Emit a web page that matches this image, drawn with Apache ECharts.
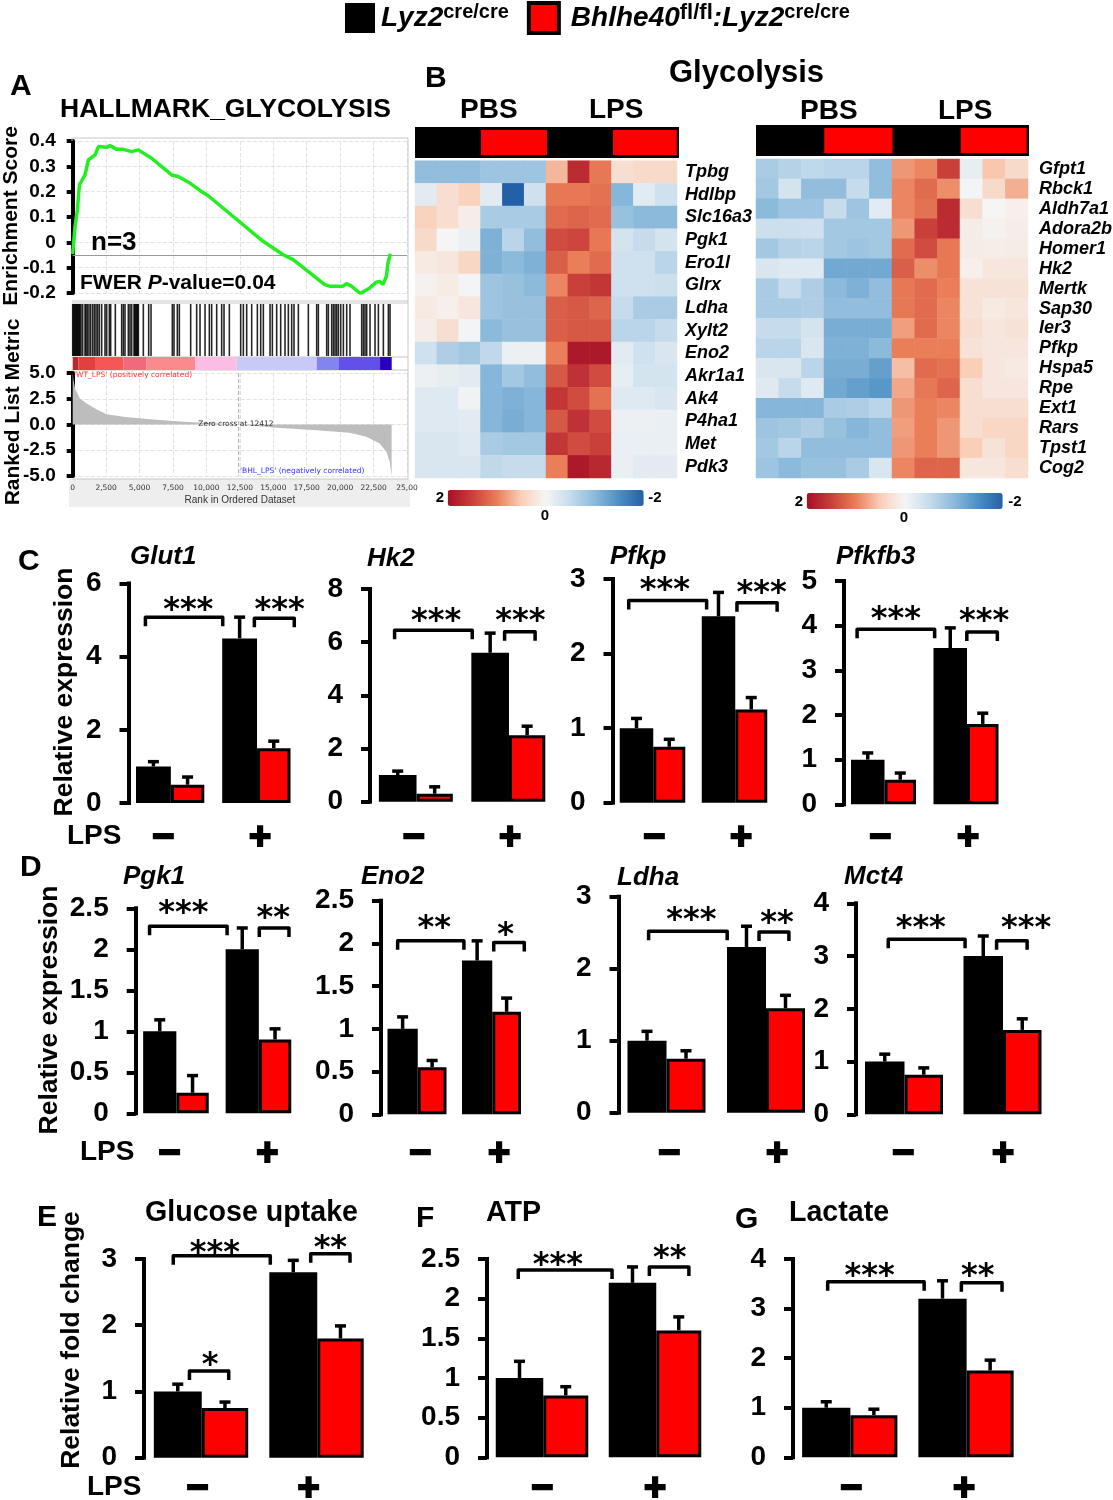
<!DOCTYPE html>
<html><head><meta charset="utf-8">
<style>html,body{margin:0;padding:0;background:#fff}#c{width:1113px;height:1500px}</style>
<script src="https://cdn.jsdelivr.net/npm/echarts@6/dist/echarts.min.js"></script>
</head><body><div id="c"></div>
<script>
// ---------- DATA ----------
const panelNames = ['Glut1','Hk2','Pfkp','Pfkfb3','Pgk1','Eno2','Ldha','Mct4','Glucose uptake','ATP','Lactate'];
const lpsGroups = ['-','+'];
const blackMeans = [[1,4.5],[1,5.6],[1,2.5],[1,3.5],[1,2],[1,1.8],[1,2.3],[1,3],[1,2.8],[1,2.2],[1,3.2]];
const redMeans = [[.5,1.5],[.3,2.5],[.75,1.25],[.55,1.8],[.25,.9],[.55,1.2],[.75,1.45],[.75,1.6],[.75,1.8],[.78,1.6],[.85,1.75]];
const blackErrTops = [[1.13,5.08],[1.15,6.34],[1.13,2.82],[1.15,3.95],[1.14,2.26],[1.14,2.03],[1.13,2.59],[1.14,3.38],[1.11,2.98],[1.21,2.40],[1.12,3.56]];
const redErrTops = [[.71,1.69],[.56,2.84],[.85,1.41],[.70,2.04],[.46,1.03],[.63,1.36],[.86,1.63],[.88,1.81],[.84,1.99],[.89,1.77],[.97,1.96]];
const yMaxes = [6,8,3,5,2.5,2.5,3,4,3,2.5,4];
const yIntervals = [2,2,1,1,.5,.5,1,1,1,.5,1];
// significance brackets: [from, to, level, starX, starLevel, stars]
const sigBrackets = [
 [[-.287,.61,5.08,.21,5.46,'***'],[.977,1.44,5.05,1.27,5.44,'***']],
 [[-.23,.61,6.45,.22,7.02,'***'],[.96,1.29,6.39,1.13,7.02,'***']],
 [[-.29,.66,2.71,.15,2.94,'***'],[1.03,1.52,2.68,1.33,2.90,'***']],
 [[-.32,.62,3.92,.15,4.30,'***'],[1.01,1.38,3.86,1.22,4.24,'***']],
 [[-.32,.62,2.28,.09,2.52,'***'],[1.01,1.37,2.26,1.18,2.46,'**']],
 [[-.26,.63,2.03,.23,2.26,'**'],[1.03,1.44,2.01,1.19,2.17,'*']],
 [[-.18,.61,2.52,.25,2.77,'***'],[.93,1.23,2.51,1.11,2.72,'**']],
 [[-.16,.62,3.32,.17,3.65,'***'],[.94,1.25,3.29,1.24,3.66,'***']],
 [[-.24,.60,3.05,.12,3.19,'***'],[.95,1.29,3.08,1.12,3.26,'**'],[-.10,.24,1.31,.08,1.50,'*']],
 [[-.21,.62,2.36,.14,2.51,'***'],[.95,1.30,2.40,1.13,2.59,'**']],
 [[-.19,.64,3.54,.17,3.78,'***'],[.96,1.31,3.52,1.10,3.78,'**']]
];
// GSEA running enrichment score [rank, ES]
const esCurve = [[0,-.046],[175,.063],[350,.129],[500,.227],[920,.266],[1170,.325],[1670,.345],[1920,.378],[2540,.375],[2790,.382],[3290,.367],[3785,.367],[4400,.358],[4900,.365],[5900,.332],[7400,.266],[7890,.26],[8765,.234],[9510,.205],[10135,.184],[12000,.102],[14240,.004],[15740,-.049],[16480,-.068],[17480,-.11],[18850,-.167],[19220,-.173],[20220,-.173],[20470,-.163],[20840,-.173],[21510,-.202],[22210,-.18],[22710,-.157],[22960,-.154],[23200,-.167],[23460,-.134],[23580,-.081],[23750,-.045]];
const esBaseline = -.047;
const hitRanks = [0,60,120,180,240,300,360,420,480,540,621,745,920,995,1094,1219,1344,1493,1618,1743,1867,1992,2166,2416,2540,2740,2839,3188,3662,3787,3911,4161,4285,4410,4585,4650,4720,4790,4850,4909,5283,5681,5856,7451,7576,7825,7975,8823,9271,9521,9895,10219,10393,10767,11141,11316,11715,12562,12762,13011,13385,13809,14058,14257,14756,14931,15255,15554,15878,16127,16376,16551,16875,17623,18246,18371,18994,19119,19368,19493,19618,19742,19867,20042,20241,20490,20739,21612,21736,21861,21986,22235,22609,22859,23233,23607,23731];
const bandEdges = [0,421,1668,3787,5532,9147,12263,18246,19867,22983,23856];
const bandColors = ['#b52a2a','#e24040','#f75656','#f06a7c','#fb8a8e','#fcbde4','#c9c9f8','#8484f0','#6250e8','#2a00bf'];
const rankedMetric = [[0,5],[60,4.3],[175,3.5],[550,2.5],[1050,2.05],[1800,1.45],[2540,1],[3785,.75],[5780,.5],[8270,.26],[12412,0],[15000,-.3],[18225,-.55],[20700,-.8],[21960,-1.2],[22960,-1.85],[23460,-2.65],[23700,-3.6],[23850,-5],[23851,0]];
const zeroCross = 12412;
const heatGenesA = ['Tpbg','Hdlbp','Slc16a3','Pgk1','Ero1l','Glrx','Ldha','Xylt2','Eno2','Akr1a1','Ak4','P4ha1','Met','Pdk3'];
const heatValuesA = [
[-.95,-.95,-.95,-.85,-.85,-.85,.65,1.7,1.05,.3,.35,.35],
[-.2,.3,.45,-.2,-2,-.4,1.05,1.05,1.1,-1.05,-.2,-.4],
[.45,.3,.1,-.75,-.75,-.75,1.15,1.2,1.15,-.9,-1,-1],
[.35,0,-.1,-1.1,-.6,-.95,1.4,1.45,1.05,-.35,-.5,-.35],
[.15,.2,.4,-1.1,-1,-1.1,1.25,1,1.15,-.4,-.4,-.6],
[.05,.12,-.02,-.85,-.9,-1,.95,1.5,1.6,-.4,-.4,-.45],
[.15,.08,.2,-.85,-.9,-.9,1.25,1.3,1.2,-.5,-.75,-.75],
[.1,.3,-.02,-1,-.9,-.9,1.25,1.3,1.3,-.6,-.6,-.5],
[-.4,-.7,-.8,-.55,-.1,-.1,1,1.9,1.9,-.2,-.4,-.3],
[-.1,-.15,-.2,-1.05,-.8,-.95,1.3,1.65,1.4,-.15,-.35,-.35],
[-.25,-.25,-.05,-1.05,-1.1,-1.05,1.6,1.4,1.1,-.25,-.25,-.3],
[-.25,-.25,-.2,-1.05,-1.15,-1.05,1.3,1.65,1.4,-.1,-.1,-.12],
[-.3,-.3,-.25,-.75,-.8,-.8,1.6,1.4,1.5,-.12,-.12,-.12],
[-.3,-.3,-.3,-.55,-.5,-.5,1,1.9,1.75,-.12,-.2,-.2]];
const heatGenesB = ['Gfpt1','Rbck1','Aldh7a1','Adora2b','Homer1','Hk2','Mertk','Sap30','Ier3','Pfkp','Hspa5','Rpe','Ext1','Rars','Tpst1','Cog2'];
const heatValuesB = [
[-.75,-.65,-.55,-.6,-.6,-.95,.85,.95,1.5,-.15,.55,.35],
[-.8,-.35,-.95,-.95,-.5,-.95,.95,1.15,.9,-.02,.35,.7],
[-1,-.85,-.85,-.5,-.85,-.2,.95,1.1,1.7,.3,0,.08],
[-.45,-.45,-.4,-.8,-.8,-.8,.85,1.5,1.7,.12,.05,.1],
[-.8,-.65,-.6,-.8,-.85,-.8,1.15,1.4,1.05,.12,.1,.12],
[-.3,-.25,-.25,-1.2,-1.2,-1.2,1.25,.9,1.05,.08,.2,.2],
[-.75,-.5,-.7,-1,-1.1,-.95,1.05,1.15,1,.25,.25,.25],
[-.75,-.75,-.7,-.95,-.95,-.95,1.05,1.15,.95,.25,.15,.2],
[-.5,-.5,-.35,-1.15,-1.15,-1.15,.8,1.15,.95,.3,.2,.25],
[-.6,-.6,-.3,-1.1,-1.1,-1,1,1,1,.25,.2,.2],
[-.3,-.3,-.6,-1.15,-1.15,-1.3,.6,1.15,1.1,.5,.2,.15],
[-.25,-.5,-.25,-1.2,-1.3,-1.4,.75,1.05,1.2,.3,.2,.2],
[-1.05,-1.05,-1.05,-.75,-.7,-.6,.85,1,.95,.3,.3,.3],
[-.85,-.8,-.7,-.9,-1.05,-.95,.8,1,.85,.3,.4,.4],
[-.8,-.6,-.95,-.95,-.95,-.95,.85,1,.85,.5,.25,.4],
[-.85,-1,-.9,-.9,-.75,-.3,.95,1.2,1.2,.2,.2,.3]];
const redColumns = [[3,6],[9,11.9]];

// ---------- LAYOUT ----------
// [axisX, yTop, y0, black1L, mid1, red1R, black2L, mid2, red2R, minusX, plusX, signY]
const panelBoxes = [
[128.5,583.5,803,135.7,172,204.6,222,258.4,290.7,163,260,839],
[370,589,801.7,378.7,418,453,471,510,545.6,413.5,510,839],
[612.5,579,802.7,619,654,686,702,737,767,654,741,839],
[844,581,804.3,851,886,916,933,968,999,880,968,839],
[135.7,908.3,1113.3,142.9,177.7,209,225.4,260,291.5,169.4,267.4,1155],
[381,900.7,1114.3,387,419,447,462,493.5,521,420,499,1155],
[618.5,896.7,1112.7,627,668,706,727,767,805,669,777,1155],
[856,903.3,1114.3,865,906,943,963,1004,1042,903,1003,1155],
[144,1259,1457.7,153.6,202.8,248.4,269,318.7,364,197.4,308.7,1490],
[487,1259,1457.3,496,545,588,608,657,702,542,655,1490],
[793,1259,1457.3,802,851.5,897.5,918,968,1014,851,964,1490]];
const FF = '"Liberation Sans", Arial, sans-serif';
const grid=[], xAxis=[], yAxis=[], series=[], graphic=[], visualMap=[];

function addGrid(l,t,w,h,extra){grid.push(Object.assign({left:l,top:t,width:w,height:h,containLabel:false,outerBoundsMode:'none'},extra||{}));return grid.length-1;}
function txt(s,x,y,o){o=o||{};const rot=o.rot||0;graphic.push({type:'text',x:rot?x+2:x,y:rot?y:y+2,rotation:rot,z:o.z||50,silent:true,style:{text:s,fontFamily:o.ff||FF,fontSize:o.size||28,fontWeight:o.w||'bold',fontStyle:o.it?'italic':'normal',fill:o.c||'#000',textAlign:o.a||'left',textVerticalAlign:'middle',rich:o.rich}});}

// ---------- BAR PANELS ----------
panelNames.forEach((nm,i)=>{
  const [ax,yt,y0,b1,m1,r1,b2,m2,r2,mx,px,sy]=panelBoxes[i];
  const c1=(b1+r1)/2,c2=(b2+r2)/2,band=c2-c1;
  const gl=c1-band/2;
  const bw=((m1-b1)+(m2-b2))/2-1.5, rw=((r1-m1)+(r2-m2))/2+1;
  const g=addGrid(gl,yt,band*2,y0-yt);
  const xc=xAxis.length; xAxis.push({type:'category',gridIndex:g,data:lpsGroups,show:false});
  const xv=xAxis.length; xAxis.push({type:'value',gridIndex:g,min:-.5,max:1.5,position:'bottom',
    axisLine:{show:false},axisTick:{show:false},splitLine:{show:false},
    axisLabel:{show:true,customValues:[(mx-c1)/band,(px-c1)/band],margin:sy-y0,verticalAlign:'middle',
      fontFamily:FF,fontSize:38,fontWeight:'bold',color:'#000',textBorderColor:'#000',textBorderWidth:2,
      formatter:v=>v<.5?'\u2212':'+',hideOverlap:false}});
  const yi=yAxis.length; yAxis.push({type:'value',gridIndex:g,min:0,max:yMaxes[i],interval:yIntervals[i],position:'left',offset:gl-ax,
    axisLine:{show:true,onZero:false,lineStyle:{color:'#000',width:4,cap:'square'}},
    axisTick:{show:true,length:9,lineStyle:{color:'#000',width:4}},
    splitLine:{show:false},
    axisLabel:{margin:27,fontFamily:FF,fontSize:28,fontWeight:'bold',color:'#000',formatter:v=>String(v)}});
  series.push({type:'bar',name:'Lyz2',xAxisIndex:xc,yAxisIndex:yi,data:blackMeans[i],barWidth:bw,barGap:0,silent:true,
    itemStyle:{color:'#000',borderColor:'#000',borderWidth:3},z:3});
  series.push({type:'bar',name:'Bhlhe40',xAxisIndex:xc,yAxisIndex:yi,data:redMeans[i],barWidth:rw,barGap:0,silent:true,
    itemStyle:{color:'#f00',borderColor:'#000',borderWidth:3},z:3});
  // error bars
  [[blackErrTops[i],-rw/2],[redErrTops[i],bw/2]].forEach(([tops,off],k)=>{
    const means=k?redMeans[i]:blackMeans[i];
    series.push({type:'custom',xAxisIndex:xc,yAxisIndex:yi,silent:true,z:2,clip:false,
      data:tops.map((t,j)=>[j,t,means[j]]),encode:{x:0,y:1},
      renderItem:(p,api)=>{const a=api.coord([api.value(0),api.value(1)]),m=api.coord([api.value(0),api.value(2)]);const x=a[0]+off;
        const st={stroke:'#000',lineWidth:3.5,fill:null};
        return {type:'group',children:[
          {type:'line',shape:{x1:x,y1:a[1],x2:x,y2:m[1]},style:st},
          {type:'line',shape:{x1:x-5.5,y1:a[1],x2:x+5.5,y2:a[1]},style:st}]};}});
  });
  // significance brackets
  const rows=sigBrackets[i];
  series.push({type:'custom',xAxisIndex:xv,yAxisIndex:yi,silent:true,z:4,clip:false,
    data:rows.map(r=>[r[0],r[2]]),encode:{x:0,y:1},
    renderItem:(p,api)=>{const r=rows[p.dataIndex];
      const A=api.coord([r[0],r[2]]),B=api.coord([r[1],r[2]]),S=api.coord([r[3],r[4]]);
      return {type:'group',children:[
        {type:'polyline',shape:{points:[[A[0],A[1]+9],[A[0],A[1]],[B[0],B[1]],[B[0],B[1]+9]]},style:{stroke:'#000',lineWidth:3.5,fill:null,lineJoin:'round'}},
        {type:'text',x:S[0],y:S[1]+7,style:{text:r[5],fontFamily:'"DejaVu Sans"',fontWeight:'bold',fontSize:32,fill:'#000',textAlign:'center',textVerticalAlign:'middle'}}]};}});
});

// ---------- GSEA ----------
const gx=72.7,gw=334.3;
const gridLine={show:true,lineStyle:{color:'#e2e2e2',type:'dashed',width:1}};
const g1=addGrid(gx,141,gw,152);
xAxis.push({type:'value',gridIndex:g1,min:0,max:25000,interval:2500,axisLine:{show:false},axisTick:{show:false},axisLabel:{show:false},splitLine:gridLine});
yAxis.push({type:'value',gridIndex:g1,min:-.2,max:.4,interval:.1,axisLine:{show:true,onZero:false,lineStyle:{color:'#000',width:4}},axisTick:{length:6,lineStyle:{color:'#000',width:4}},
  axisLabel:{margin:17,fontFamily:FF,fontSize:19,fontWeight:'bold',color:'#000',formatter:v=>Math.abs(v)<1e-9?'0':v.toFixed(1)},splitLine:gridLine});
series.push({type:'line',name:'ES',xAxisIndex:xAxis.length-1,yAxisIndex:yAxis.length-1,data:esCurve,showSymbol:false,smooth:false,silent:true,
  lineStyle:{color:'#22ee22',width:3.5},itemStyle:{color:'#22ee22'},z:5,
  markLine:{silent:true,symbol:'none',label:{show:false},lineStyle:{color:'#999',width:1,type:'solid'},data:[{yAxis:esBaseline}]}});
const g2=addGrid(gx,304,gw,52);
xAxis.push({type:'value',gridIndex:g2,min:0,max:25000,show:false});
yAxis.push({type:'value',gridIndex:g2,min:0,max:1,show:false});
series.push({type:'bar',name:'hits',xAxisIndex:xAxis.length-1,yAxisIndex:yAxis.length-1,data:hitRanks.map(r=>[r,1]),barWidth:1.6,silent:true,itemStyle:{color:'rgba(0,0,0,.85)'}});
const g3=addGrid(gx,357,gw,13);
xAxis.push({type:'value',gridIndex:g3,min:0,max:25000,show:false});
yAxis.push({type:'value',gridIndex:g3,min:0,max:1,show:false});
series.push({type:'custom',xAxisIndex:xAxis.length-1,yAxisIndex:yAxis.length-1,silent:true,
  data:bandColors.map((c,i)=>[bandEdges[i],bandEdges[i+1]]),encode:{x:[0,1]},
  renderItem:(p,api)=>{const a=api.coord([api.value(0),1]),b=api.coord([api.value(1),0]);
    return {type:'rect',shape:{x:a[0],y:a[1],width:b[0]-a[0],height:b[1]-a[1]},style:{fill:bandColors[p.dataIndex]}};}});
const g4=addGrid(gx,373,gw,103);
xAxis.push({type:'value',gridIndex:g4,min:0,max:25000,interval:2500,offset:3,position:'bottom',axisLine:{show:false,onZero:false},axisTick:{show:false},splitLine:gridLine,
  name:'Rank in Ordered Dataset',nameLocation:'middle',nameGap:16,nameTextStyle:{fontFamily:FF,fontSize:10,color:'#333'},
  axisLabel:{margin:5,fontFamily:'"DejaVu Sans"',fontSize:7.5,color:'#333',formatter:v=>v===25000?'25,00':v.toLocaleString('en-US')}});
yAxis.push({type:'value',gridIndex:g4,min:-5,max:5,interval:2.5,axisLine:{show:true,onZero:false,lineStyle:{color:'#000',width:4}},axisTick:{length:6,lineStyle:{color:'#000',width:4}},
  axisLabel:{margin:17,fontFamily:FF,fontSize:19,fontWeight:'bold',color:'#000',formatter:v=>v.toFixed(1)},splitLine:gridLine});
series.push({type:'line',name:'metric',xAxisIndex:xAxis.length-1,yAxisIndex:yAxis.length-1,data:rankedMetric,showSymbol:false,silent:true,lineStyle:{width:0},areaStyle:{color:'#bdbdbd',opacity:1},z:3});
series.push({type:'line',name:'zero',xAxisIndex:xAxis.length-1,yAxisIndex:yAxis.length-1,data:[[zeroCross,5],[zeroCross,-5]],showSymbol:false,silent:true,lineStyle:{color:'#aaa',width:1,type:'dashed'},z:4});
// frame and band
graphic.push({type:'rect',z:-1,silent:true,shape:{x:69,y:479,width:341,height:28},style:{fill:'#eeeeee'}});
[[72,138,408,138],[408,138,408,479],[72,479,408,479],[72,301,408,301],[72,303,408,303],[72,357,408,357],[72,370,408,370],[72,138,72,141]].forEach(l=>
  graphic.push({type:'line',z:1,silent:true,shape:{x1:l[0],y1:l[1],x2:l[2],y2:l[3]},style:{stroke:'#c8c8c8',lineWidth:1}}));

// ---------- HEATMAPS ----------
const heatColors=['#2460a7','#4b8fc4','#8cbadb','#c6dcec','#f5f5f5','#f9cfb8','#ea7e58','#c9403a','#a50f26'];
function heat(genes,vals,l,t,w,h,annL,annT,annW,annH,cbL,cbT,cbLen,labMargin){
  const g=addGrid(l,t,w,h);
  const xi=xAxis.length; xAxis.push({type:'category',gridIndex:g,data:vals[0].map((_,i)=>i),show:false});
  const yi=yAxis.length; yAxis.push({type:'category',gridIndex:g,data:genes,inverse:true,position:'right',axisLine:{show:false},axisTick:{show:false},splitLine:{show:false},
    axisLabel:{margin:labMargin,fontFamily:FF,fontSize:18,fontWeight:'bold',fontStyle:'italic',color:'#000',interval:0}});
  const d=[];vals.forEach((r,ri)=>r.forEach((v,ci)=>d.push([ci,ri,v])));
  series.push({type:'heatmap',xAxisIndex:xi,yAxisIndex:yi,data:d,silent:true,progressive:0,emphasis:{disabled:true}});
  visualMap.push({type:'continuous',seriesIndex:series.length-1,min:-2,max:2,inverse:true,orient:'horizontal',left:cbL,top:cbT,itemWidth:16,itemHeight:cbLen,padding:0,text:null,calculable:false,hoverLink:false,showLabel:false,realtime:false,inRange:{color:heatColors},textStyle:{fontSize:0}});
  const g2=addGrid(annL,annT,annW,annH,{show:true,backgroundColor:'#000',borderWidth:0});
  xAxis.push({type:'value',gridIndex:g2,min:0,max:12,show:false});
  yAxis.push({type:'value',gridIndex:g2,min:0,max:1,show:false});
  series.push({type:'custom',xAxisIndex:xAxis.length-1,yAxisIndex:yAxis.length-1,silent:true,data:redColumns,encode:{x:[0,1]},
    renderItem:(p,api)=>{const a=api.coord([api.value(0),1]),b=api.coord([api.value(1),0]);
      return {type:'rect',shape:{x:a[0],y:a[1]+3,width:b[0]-a[0],height:b[1]-a[1]-6},style:{fill:'#f00'}};}});
}
heat(heatGenesA,heatValuesA,415,160.7,262,317.3,415,127,264,31,447.7,490,196,8);
heat(heatGenesB,heatValuesB,756,159,272,319,756,125,273,31,806.7,493,196,11);

// ---------- TEXT ----------
[['A',10,85],['B',425,77],['C',18,560],['D',20,866],['E',37,1216],['F',416,1217],['G',735,1218]].forEach(t=>txt(t[0],t[1],t[2],{size:30}));
txt('Glycolysis',669,71,{size:31});
txt('HALLMARK_GLYCOLYSIS',60,108,{size:26.5});
txt('PBS',460,108,{size:28});txt('LPS',589,108,{size:28});
txt('PBS',800,109,{size:28});txt('LPS',938,109,{size:28});
txt('Enrichment Score',9,216,{size:21,rot:Math.PI/2,a:'center'});
txt('Ranked List Metric',11,412,{size:21,rot:Math.PI/2,a:'center'});
txt('n=3',91,241,{size:26});
txt('{a|FWER }{b|P}{a|-value=0.04}',80,281,{rich:{a:{fontFamily:FF,fontSize:21,fontWeight:'bold',fill:'#000'},b:{fontFamily:FF,fontSize:21,fontWeight:'bold',fontStyle:'italic',fill:'#000'}}});
txt("'WT_LPS' (positively correlated)",74,373,{size:7.5,w:'normal',c:'#f33',ff:'"DejaVu Sans"'});
txt("'BHL_LPS' (negatively correlated)",240,469,{size:7.5,w:'normal',c:'#33f',ff:'"DejaVu Sans"'});
txt('Zero cross at 12412',236,422,{size:7.5,w:'normal',a:'center',c:'#333',ff:'"DejaVu Sans"'});
[['2',440,496,'center'],['-2',655,496,'center'],['0',545,514,'center'],['2',799,500,'center'],['-2',1015,500,'center'],['0',904,516,'center']].forEach(t=>txt(t[0],t[1],t[2],{size:15,a:t[3]}));
[['Glut1',130,555],['Hk2',367,557],['Pfkp',610,555],['Pfkfb3',836,555],['Pgk1',123,875],['Eno2',361,875],['Ldha',617,876],['Mct4',844,875]].forEach(t=>txt(t[0],t[1],t[2],{size:26,it:true}));
txt('Glucose uptake',145,1211,{size:28.6});txt('ATP',486,1211,{size:28.6});txt('Lactate',789,1211,{size:28.6});
txt('Relative expression',63,692,{size:26.5,rot:Math.PI/2,a:'center'});
txt('Relative expression',48,1010,{size:26.5,rot:Math.PI/2,a:'center'});
txt('Relative fold change',70,1340,{size:26.5,rot:Math.PI/2,a:'center'});
txt('LPS',67,834,{size:28});txt('LPS',80,1150,{size:28});txt('LPS',87,1485,{size:28});

const legendRich={a:{fontFamily:FF,fontSize:28,fontWeight:'bold',fontStyle:'italic',color:'#000',lineHeight:32},
  b:{fontFamily:FF,fontSize:20,fontWeight:'bold',color:'#000',lineHeight:20,verticalAlign:'top'},
  f:{fontFamily:FF,fontSize:22,fontWeight:'bold',color:'#000',lineHeight:22,verticalAlign:'top'},
  s:{width:6,fontSize:20,lineHeight:20}};
const option={animation:false,backgroundColor:'#fff',textStyle:{fontFamily:FF},
  legend:{left:345,top:1,itemWidth:30,itemHeight:30,itemGap:18,padding:0,selectedMode:false,icon:'rect',
    data:[{name:'Lyz2',itemStyle:{color:'#000',borderWidth:0}},{name:'Bhlhe40',itemStyle:{color:'#f00',borderColor:'#000',borderWidth:4}}],
    formatter:n=>n==='Lyz2'?'{a|Lyz2}{b|cre/cre}':'{s| }{a|Bhlhe40}{f|fl/fl}{a|:Lyz2}{b|cre/cre}',
    textStyle:{rich:legendRich,padding:[0,0,0,1]}},
  tooltip:{show:false},grid,xAxis,yAxis,series,visualMap,graphic:{elements:graphic}};
const chart=echarts.init(document.getElementById('c'),null,{renderer:'canvas',width:1113,height:1500});
chart.setOption(option);
</script></body></html>
